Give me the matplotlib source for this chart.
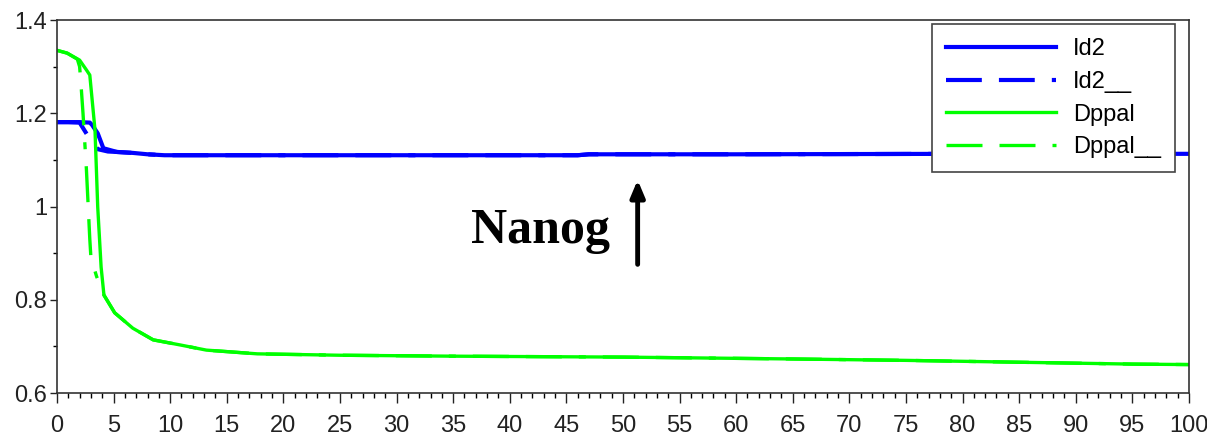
import matplotlib
matplotlib.use("Agg")
import matplotlib.pyplot as plt
from matplotlib.ticker import MultipleLocator

# --- Data ---
id2_t = [0, 1, 2, 2.9, 3.1, 3.6, 4.1, 5.3, 6.7, 8.0, 9.5, 20, 30, 46, 47, 60, 80, 100]
id2_v = [1.181, 1.181, 1.181, 1.180, 1.175, 1.157, 1.125, 1.117, 1.115, 1.112, 1.110, 1.110,
         1.110, 1.110, 1.112, 1.112, 1.113, 1.113]

id2b_t = [0, 1, 2.0, 2.9, 3.6, 4.5, 5.3, 6.7, 8.0, 9.5, 20, 30, 46, 47, 60, 80, 100]
id2b_v = [1.181, 1.181, 1.180, 1.145, 1.123, 1.118, 1.117, 1.115, 1.112, 1.110, 1.110,
          1.110, 1.110, 1.112, 1.112, 1.113, 1.113]

dppal_t = [0, 0.9, 2.0, 2.6, 2.9, 3.36, 3.6, 3.9, 4.15, 5.1, 6.7, 8.5, 10.9, 13.2, 17.7,
           25, 35, 50, 65, 75, 85, 95, 100]
dppal_v = [1.335, 1.329, 1.314, 1.293, 1.282, 1.164, 0.999, 0.870, 0.810, 0.772, 0.739,
           0.714, 0.703, 0.692, 0.684, 0.681, 0.679, 0.677, 0.673, 0.670, 0.666, 0.662, 0.661]

dppalb_t = [0, 0.9, 1.8, 2.0, 2.1, 2.3, 2.6, 2.9, 3.0, 3.5, 4.15, 5.1, 6.7, 8.5, 10.9, 13.2,
            17.7, 25, 35, 50, 65, 75, 85, 95, 100]
dppalb_v = [1.335, 1.329, 1.316, 1.300, 1.270, 1.200, 1.080, 0.930, 0.890, 0.850, 0.810,
            0.772, 0.739, 0.714, 0.703, 0.692, 0.684, 0.681, 0.679, 0.677, 0.673, 0.670,
            0.666, 0.662, 0.661]

BLUE = "#0000ff"
GREEN = "#00ff00"
FONT = ["Liberation Sans Narrow", "Liberation Sans", "DejaVu Sans"]

plt.rcParams["font.family"] = FONT

fig = plt.figure(figsize=(12.07, 4.40), dpi=100)
ax = fig.add_axes([0.0472, 0.1068, 0.9378, 0.8477])

ax.plot(id2_t, id2_v, color=BLUE, lw=3.0, label="Id2", solid_joinstyle="round")
ax.plot(id2b_t, id2b_v, color=BLUE, lw=3.0, label="Id2__",
        linestyle=(0, (8.6, 4.1, 8.6, 4.1, 1.7, 4.1)))
ax.plot(dppal_t, dppal_v, color=GREEN, lw=2.4, label="Dppal")
ax.plot(dppalb_t, dppalb_v, color=GREEN, lw=2.4, label="Dppal__",
        linestyle=(0, (10.8, 5.1, 10.8, 5.1, 2.1, 5.1)))

ax.set_xlim(0, 100)
ax.set_ylim(0.6, 1.4)
ax.xaxis.set_major_locator(MultipleLocator(5))
ax.xaxis.set_minor_locator(MultipleLocator(1))
ax.yaxis.set_major_locator(MultipleLocator(0.2))
ax.yaxis.set_minor_locator(MultipleLocator(0.1))
ax.set_yticks([0.6, 0.8, 1.0, 1.2, 1.4], ["0.6", "0.8", "1", "1.2", "1.4"])

ax.tick_params(axis="x", which="major", direction="out", length=7, width=1, pad=9,
               labelsize=17, colors="#222222")
ax.tick_params(axis="x", which="minor", direction="out", length=3.5, width=1)
ax.tick_params(axis="y", which="major", direction="out", length=5, width=1, pad=2,
               labelsize=17, colors="#222222")
ax.tick_params(axis="y", which="minor", direction="out", length=3, width=1)
for s in ax.spines.values():
    s.set_color("#333333")
    s.set_linewidth(1.2)

leg = ax.legend(loc="upper right", bbox_to_anchor=(0.9876, 0.989), fontsize=17,
                frameon=True, fancybox=False, edgecolor="#444444", framealpha=1,
                handlelength=4.67, handletextpad=0.7, borderpad=0.6, labelspacing=0.45,
                borderaxespad=0)
leg.get_frame().set_linewidth(1.2)

ax.text(48.9, 0.922, "Nanog", family=["Liberation Serif", "DejaVu Serif"],
        fontweight="bold", fontsize=36, ha="right", va="baseline")
ax.annotate("", xy=(51.3, 1.063), xytext=(51.3, 0.870),
            arrowprops=dict(arrowstyle="-|>,head_length=1.0,head_width=0.42",
                            color="black", lw=3.5))

fig.savefig("out.png", dpi=100)
